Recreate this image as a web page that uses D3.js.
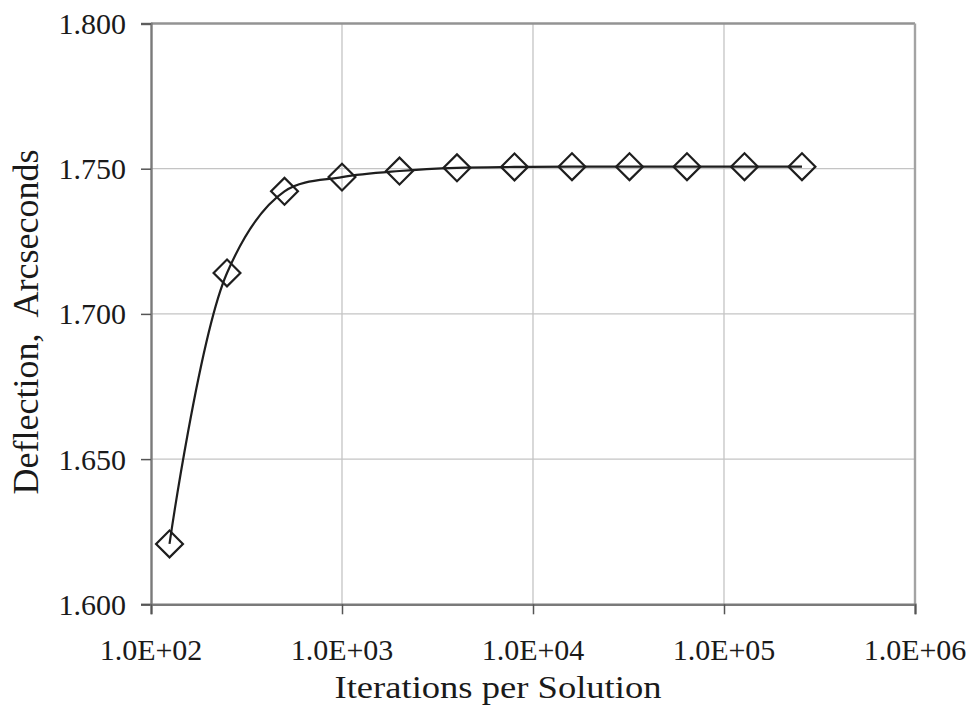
<!DOCTYPE html>
<html>
<head>
<meta charset="utf-8">
<script src="https://cdn.jsdelivr.net/npm/d3@7"></script>
<style>
  html, body { margin: 0; padding: 0; background: #fff; }
  svg { display: block; }
  svg text { font-family: "Liberation Serif", Tinos, "Times New Roman", Times, "DejaVu Serif", serif; fill: #1a1a1a; }
</style>
</head>
<body>
<svg id="chart" width="973" height="711"></svg>
<script>
const iterations = [125, 250, 500, 1000, 2000, 4000, 8000, 16000, 32000, 64000, 128000, 256000];
const deflection = [1.6208, 1.7141, 1.7422, 1.7471, 1.7492, 1.7503, 1.7506, 1.7507, 1.7507, 1.7507, 1.7507, 1.7507];
const xTicks = [1e2, 1e3, 1e4, 1e5, 1e6];
const xTickLabels = ["1.0E+02", "1.0E+03", "1.0E+04", "1.0E+05", "1.0E+06"];
const yTicks = [1.600, 1.650, 1.700, 1.750, 1.800];
const yTickLabels = ["1.600", "1.650", "1.700", "1.750", "1.800"];
const xTitle = "Iterations per Solution";
const yTitle = "Deflection,\u00a0 Arcseconds";

const svg = d3.select("#chart");
const pLeft = 151, pRight = 915, pTop = 23.5, pBottom = 604.3;

const x = d3.scaleLog().domain([1e2, 1e6]).range([pLeft, pRight]);
const y = d3.scaleLinear().domain([1.600, 1.800]).range([pBottom, pTop]);

// gridlines
svg.append("g").selectAll("line").data(yTicks.slice(1, -1)).join("line")
  .attr("x1", pLeft).attr("x2", pRight)
  .attr("y1", d => y(d)).attr("y2", d => y(d))
  .attr("stroke", "#c4c4c4").attr("stroke-width", 1.3);
svg.append("g").selectAll("line").data(xTicks.slice(1, -1)).join("line")
  .attr("y1", pTop).attr("y2", pBottom)
  .attr("x1", d => x(d)).attr("x2", d => x(d))
  .attr("stroke", "#c4c4c4").attr("stroke-width", 1.3);

// border top/right
svg.append("line").attr("x1", pLeft).attr("x2", pRight).attr("y1", pTop).attr("y2", pTop)
  .attr("stroke", "#939393").attr("stroke-width", 2.4);
svg.append("line").attr("x1", pRight).attr("x2", pRight).attr("y1", pTop).attr("y2", pBottom)
  .attr("stroke", "#a3a3a3").attr("stroke-width", 2.4);

// axes (lines + ticks via d3 axis, labels drawn separately)
const yAxis = d3.axisLeft(y).tickValues(yTicks).tickFormat("").tickSize(10);
const gy = svg.append("g").attr("transform", `translate(${pLeft},0)`).call(yAxis);
gy.select(".domain").attr("stroke", "#7a7a7a").attr("stroke-width", 2.4);
gy.selectAll(".tick line").attr("stroke", "#555").attr("stroke-width", 1.5);

const xAxis = d3.axisBottom(x).tickValues(xTicks).tickFormat("").tickSize(10);
const gx = svg.append("g").attr("transform", `translate(0,${pBottom})`).call(xAxis);
gx.select(".domain").attr("stroke", "#7a7a7a").attr("stroke-width", 2.4);
gx.selectAll(".tick line").attr("stroke", "#555").attr("stroke-width", 1.5);

svg.append("g").selectAll("text").data(yTicks).join("text")
  .attr("x", pLeft - 25).attr("y", d => y(d)).attr("dy", "0.35em")
  .attr("text-anchor", "end").attr("font-size", 30)
  .text((d, i) => yTickLabels[i]);

svg.append("g").selectAll("text").data(xTicks).join("text")
  .attr("x", d => x(d)).attr("y", 660)
  .attr("text-anchor", "middle").attr("font-size", 30)
  .text((d, i) => xTickLabels[i]);

// line
const pts = iterations.map((v, i) => [x(v), y(deflection[i])]);
svg.append("path")
  .attr("d", d3.line().curve(d3.curveCatmullRom.alpha(0.5))(pts))
  .attr("fill", "none").attr("stroke", "#1e1e1e").attr("stroke-width", 2.2);

// markers
const sym = d3.symbol().type(d3.symbolSquare).size(19 * 19);
svg.append("g").selectAll("path").data(pts).join("path")
  .attr("d", sym)
  .attr("transform", d => `translate(${d[0]},${d[1]}) rotate(45)`)
  .attr("fill", "none").attr("stroke", "#1e1e1e").attr("stroke-width", 2.2);

// titles
svg.append("text").attr("x", 498).attr("y", 698).attr("text-anchor", "middle")
  .attr("font-size", 32).attr("textLength", 327).attr("lengthAdjust", "spacingAndGlyphs")
  .text(xTitle);
svg.append("text").attr("transform", "translate(38,322) rotate(-90)").attr("text-anchor", "middle")
  .attr("font-size", 36).text(yTitle);
</script>
</body>
</html>
